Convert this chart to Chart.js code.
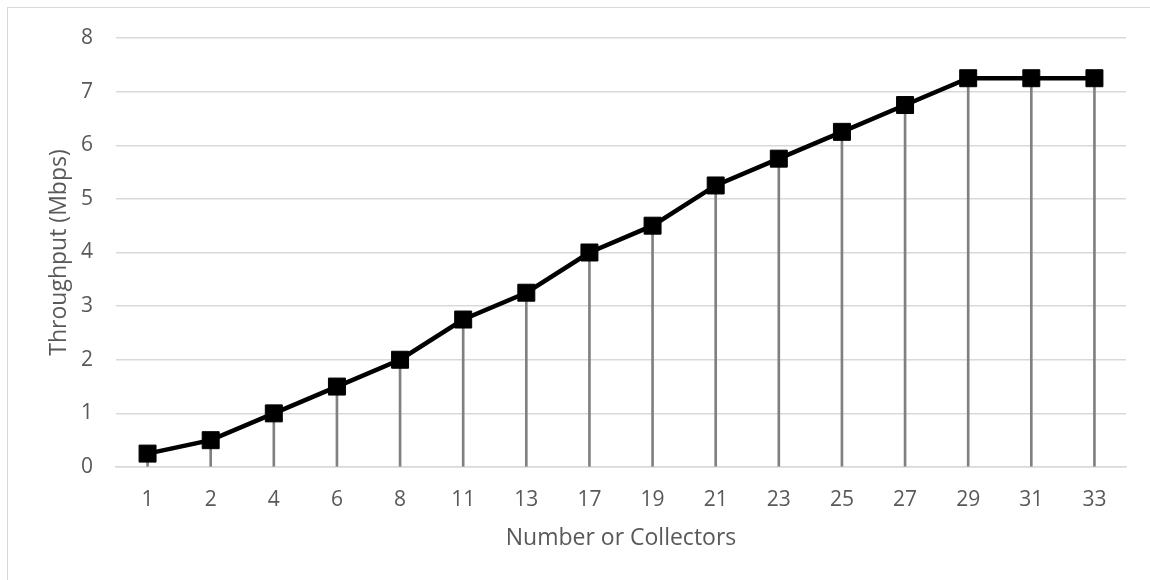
<!DOCTYPE html>
<html lang="en">
<head>
<meta charset="UTF-8">
<title>Throughput vs Collectors</title>
<script src="https://cdn.jsdelivr.net/npm/chart.js"></script>
<style>
    body { margin: 0; background: #fff; }
    #wrap {
        position: relative;
        width: 1150px;
        height: 580px;
    }
    #frame {
        position: absolute;
        left: 7px; top: 7px; right: -4px; bottom: -4px;
        border-top: 1.5px solid #d9d9d9;
        border-left: 1.5px solid #d9d9d9;
        pointer-events: none;
    }
</style>
</head>
<body>
<div id="wrap">
    <canvas id="chart" width="1150" height="580"></canvas>
    <div id="frame"></div>
</div>
<script>
// data
const collectors = ['1', '2', '4', '6', '8', '11', '13', '17', '19', '21', '23', '25', '27', '29', '31', '33'];
const throughput = [0.25, 0.5, 1, 1.5, 2, 2.75, 3.25, 4, 4.5, 5.25, 5.75, 6.25, 6.75, 7.25, 7.25, 7.25];
const yTicks = [0, 1, 2, 3, 4, 5, 6, 7, 8];

const txt = '#595959';
const grid = '#d9d9d9';
const tickFont = { family: "'Open Sans', sans-serif", size: 21 };
const titleFont = { family: "'Open Sans', sans-serif", size: 23 };

new Chart(document.getElementById('chart'), {
    data: {
        labels: collectors,
        datasets: [
            {
                // gray drop lines under each point
                type: 'bar',
                data: throughput,
                backgroundColor: '#808080',
                barThickness: 2,
                order: 2
            },
            {
                type: 'line',
                data: throughput,
                borderColor: '#000',
                borderWidth: 4.5,
                tension: 0,
                pointStyle: 'rect',
                pointRadius: 12,
                pointBackgroundColor: '#000',
                pointBorderColor: '#000',
                pointBorderWidth: 1,
                order: 1
            }
        ]
    },
    options: {
        responsive: false,
        animation: false,
        layout: { padding: { top: 38, right: 24, left: 0, bottom: 0 } },
        plugins: {
            legend: { display: false },
            tooltip: { enabled: false }
        },
        scales: {
            x: {
                offset: true,
                grid: { display: false },
                border: { display: true, color: grid, width: 1.5 },
                ticks: { color: txt, font: tickFont, padding: 12, maxRotation: 0 },
                title: {
                    display: true,
                    text: 'Number or Collectors',
                    color: txt,
                    font: titleFont,
                    padding: { top: 0, bottom: 28 }
                },
                afterFit: function (scale) { scale.height = 113; }
            },
            y: {
                min: 0,
                max: 8,
                afterBuildTicks: function (scale) {
                    scale.ticks = yTicks.map(v => ({ value: v }));
                },
                grid: { color: grid, lineWidth: 1.5, drawTicks: false },
                border: { display: false },
                ticks: { color: txt, font: tickFont, padding: 23 },
                title: {
                    display: true,
                    text: 'Throughput (Mbps)',
                    color: txt,
                    font: titleFont,
                    padding: { top: 46, bottom: 0 }
                },
                afterFit: function (scale) { scale.width = 116; }
            }
        }
    }
});
</script>
</body>
</html>
